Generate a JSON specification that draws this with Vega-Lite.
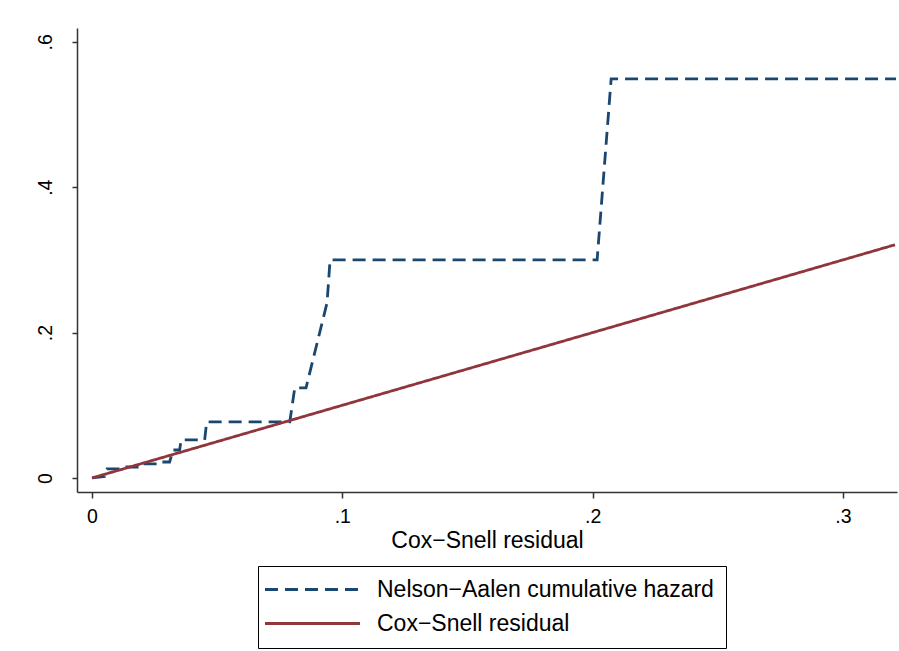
{
  "$schema": "https://vega.github.io/schema/vega-lite/v6.json",
  "autosize": {"type": "none"},
  "padding": {"left": 77, "top": 28, "right": 2, "bottom": 159},
  "width": 820,
  "height": 464,
  "background": "white",
  "config": {
    "view": {"stroke": null},
    "font": "Liberation Sans",
    "axis": {"grid": false, "domainColor": "#333333", "tickColor": "#333333", "labelColor": "black", "titleColor": "black", "labelFont": "Liberation Sans", "titleFont": "Liberation Sans", "labelFontSize": 19.5, "titleFontSize": 23, "titleFontWeight": "normal", "domainWidth": 1.5, "tickWidth": 1.5}
  },
  "data": {
    "values": [
      {"s": "Nelson−Aalen cumulative hazard", "o": 1, "x": 0, "y": 0},
      {"s": "Nelson−Aalen cumulative hazard", "o": 2, "x": 0.005, "y": 0.002},
      {"s": "Nelson−Aalen cumulative hazard", "o": 3, "x": 0.006, "y": 0.0124},
      {"s": "Nelson−Aalen cumulative hazard", "o": 4, "x": 0.011, "y": 0.0124},
      {"s": "Nelson−Aalen cumulative hazard", "o": 5, "x": 0.0116, "y": 0.0151},
      {"s": "Nelson−Aalen cumulative hazard", "o": 6, "x": 0.019, "y": 0.0151},
      {"s": "Nelson−Aalen cumulative hazard", "o": 7, "x": 0.0196, "y": 0.0193},
      {"s": "Nelson−Aalen cumulative hazard", "o": 8, "x": 0.026, "y": 0.0193},
      {"s": "Nelson−Aalen cumulative hazard", "o": 9, "x": 0.0264, "y": 0.022},
      {"s": "Nelson−Aalen cumulative hazard", "o": 10, "x": 0.031, "y": 0.022},
      {"s": "Nelson−Aalen cumulative hazard", "o": 11, "x": 0.0324, "y": 0.0385},
      {"s": "Nelson−Aalen cumulative hazard", "o": 12, "x": 0.035, "y": 0.0385},
      {"s": "Nelson−Aalen cumulative hazard", "o": 13, "x": 0.0356, "y": 0.0523},
      {"s": "Nelson−Aalen cumulative hazard", "o": 14, "x": 0.045, "y": 0.0523},
      {"s": "Nelson−Aalen cumulative hazard", "o": 15, "x": 0.0458, "y": 0.0771},
      {"s": "Nelson−Aalen cumulative hazard", "o": 16, "x": 0.079, "y": 0.0771},
      {"s": "Nelson−Aalen cumulative hazard", "o": 17, "x": 0.081, "y": 0.124},
      {"s": "Nelson−Aalen cumulative hazard", "o": 18, "x": 0.0855, "y": 0.124},
      {"s": "Nelson−Aalen cumulative hazard", "o": 19, "x": 0.0939, "y": 0.241},
      {"s": "Nelson−Aalen cumulative hazard", "o": 20, "x": 0.0951, "y": 0.3},
      {"s": "Nelson−Aalen cumulative hazard", "o": 21, "x": 0.2018, "y": 0.3},
      {"s": "Nelson−Aalen cumulative hazard", "o": 22, "x": 0.2074, "y": 0.549},
      {"s": "Nelson−Aalen cumulative hazard", "o": 23, "x": 0.3212, "y": 0.549},
      {"s": "Cox−Snell residual", "o": 1, "x": 0, "y": 0},
      {"s": "Cox−Snell residual", "o": 2, "x": 0.3208, "y": 0.3208}
    ]
  },
  "mark": {"type": "line", "strokeWidth": 2.8, "clip": true},
  "encoding": {
    "x": {
      "field": "x", "type": "quantitative",
      "scale": {"domain": [-0.006, 0.3216], "nice": false, "zero": false},
      "axis": {"values": [0, 0.1, 0.2, 0.3], "labelExpr": "datum.value == 0 ? '0' : replace(format(datum.value, '.1f'), '0.', '.')", "tickSize": 6, "labelPadding": 9, "title": "Cox−Snell residual", "titlePadding": 4}
    },
    "y": {
      "field": "y", "type": "quantitative",
      "scale": {"domain": [-0.0193, 0.619], "nice": false, "zero": false},
      "axis": {"values": [0, 0.2, 0.4, 0.6], "labelExpr": "datum.value == 0 ? '0' : replace(format(datum.value, '.1f'), '0.', '.')", "tickSize": 5, "labelAngle": -90, "labelAlign": "center", "labelBaseline": "bottom", "labelPadding": 17, "title": null}
    },
    "color": {
      "field": "s", "type": "nominal",
      "scale": {"domain": ["Nelson−Aalen cumulative hazard", "Cox−Snell residual"], "range": ["#1a476f", "#90353b"]},
      "legend": {"title": null, "orient": "none", "legendX": 181, "legendY": 538, "direction": "vertical", "symbolType": "M-1,0H9", "symbolSize": 361, "symbolStrokeWidth": 2.8, "symbolOffset": -7, "labelFontSize": 23, "labelFont": "Liberation Sans", "labelColor": "black", "labelOffset": 91, "strokeColor": "black", "fillColor": "white", "padding": 12, "rowPadding": 10, "labelLimit": 600}
    },
    "strokeDash": {
      "field": "s", "type": "nominal",
      "scale": {"domain": ["Nelson−Aalen cumulative hazard", "Cox−Snell residual"], "range": [[13, 7], [1, 0]]},
      "legend": null
    },
    "order": {"field": "o", "type": "quantitative"}
  }
}
